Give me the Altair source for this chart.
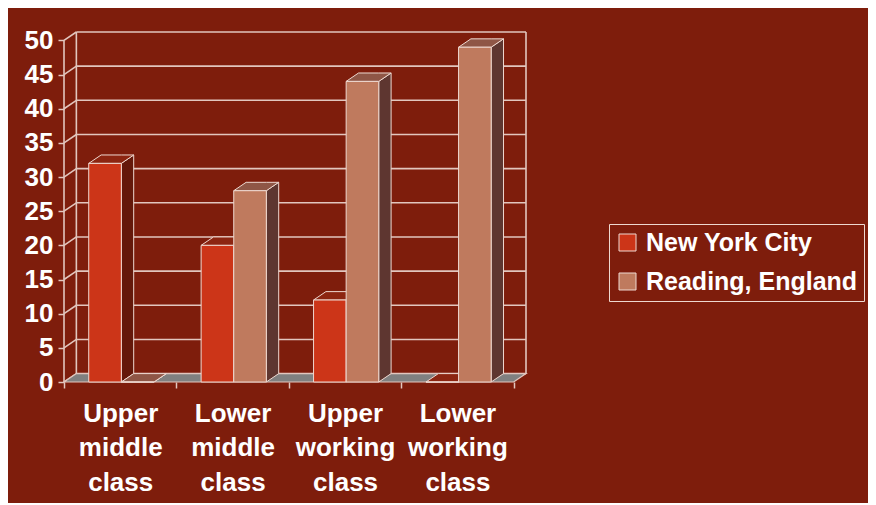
import altair as alt
import pandas as pd

# ---------------- data ----------------
categories = ["Upper middle class", "Lower middle class", "Upper working class", "Lower working class"]
category_lines = [["Upper", "middle", "class"], ["Lower", "middle", "class"],
                  ["Upper", "working", "class"], ["Lower", "working", "class"]]
series = ["New York City", "Reading, England"]
nyc = [32, 20, 12, 0]
reading = [0, 28, 44, 49]
y_ticks = [0, 5, 10, 15, 20, 25, 30, 35, 40, 45, 50]

# ---------------- style / geometry ----------------
BG = "#7E1D0C"
LINE = "#E2C6BE"
EDGE = "#EED8D0"
FRONT = ["#CC3518", "#BF7A5E"]
TOP = ["#8C2511", "#8F5646"]
SIDE = ["#64180A", "#5E3630"]
FLOOR = "#808080"
FONT = "Liberation Sans"

BAR_W = 0.29          # bar width in category units
OFFSETS = [0.22, 0.51]  # left edge of each series' bar inside its category
DX = 0.11             # depth offset (x, category units)
DY = 1.23             # depth offset (y, value units)
N = len(categories)
YMAX = 50

# ---------------- tables ----------------
values = [nyc, reading]
bar_rows, side_rows, top_rows = [], [], []
for s_i, s in enumerate(series):
    for c_i, cat in enumerate(categories):
        v = values[s_i][c_i]
        xl = c_i + OFFSETS[s_i]
        xr = xl + BAR_W
        bid = f"{s_i}-{c_i}"
        bar_rows.append(dict(series=s, category=cat, value=v, xl=xl, xr=xr, y0=0))
        side_rows += [dict(id=bid, series=s, x=xr, ya=v, yb=0),
                      dict(id=bid, series=s, x=xr + DX, ya=v + DY, yb=DY)]
        top_rows += [dict(id=bid, series=s, x=xl, ya=v, yb=v),
                     dict(id=bid, series=s, x=xl + DX, ya=v + DY, yb=v),
                     dict(id=bid, series=s, x=xr, ya=v + DY, yb=v),
                     dict(id=bid, series=s, x=xr + DX, ya=v + DY, yb=v + DY)]
bars = pd.DataFrame(bar_rows)
sides = pd.DataFrame(side_rows)
tops = pd.DataFrame(top_rows)

grid = pd.DataFrame(dict(v=y_ticks))
grid["xb0"] = DX
grid["xb1"] = N + DX
grid["yb"] = grid["v"] + DY
grid["xd0"] = 0.0
grid["xd1"] = DX

walls = pd.DataFrame(dict(x=[DX, N + DX], y0=[DY, DY], y1=[YMAX + DY, YMAX + DY]))
front_axis = pd.DataFrame(dict(x=[0.0], y0=[0], y1=[YMAX]))
floor = pd.DataFrame(dict(x=[0, DX, N, N + DX], ya=[0, DY, DY, DY], yb=[0, 0, 0, DY]))

# ---------------- scales / axes ----------------
xscale = alt.Scale(domain=[0, N + DX], nice=False, zero=False)
yscale = alt.Scale(domain=[0, YMAX + DY], nice=False, zero=False)

label_expr = ""
for i, lines in enumerate(category_lines):
    arr = "[" + ",".join("'" + w + "'" for w in lines) + "]"
    label_expr += f"datum.value == {i + 0.5} ? {arr} : "
label_expr += "''"
x_values = [k / 2 for k in range(2 * N + 1)]

x_axis = alt.Axis(values=x_values, labelExpr=label_expr, title=None, grid=False, domain=False,
                  tickColor=LINE, tickSize=6, tickWidth=1.5,
                  tickOpacity={"condition": {"test": "datum.value % 1 != 0", "value": 0}, "value": 1},
                  labelFont=FONT, labelFontSize=26, labelFontWeight="bold", labelColor="white",
                  labelAlign="center", labelBaseline="top", labelLineHeight=34.5, labelPadding=12,
                  labelOverlap=False, labelFlush=False, labelBound=False)
y_axis = alt.Axis(values=y_ticks, title=None, grid=False, domain=False,
                  tickColor=LINE, tickSize=6, tickWidth=1.5,
                  labelFont=FONT, labelFontSize=26, labelFontWeight="bold", labelColor="white",
                  labelPadding=5, labelOverlap=False, labelFlush=False)


def X(f):
    return alt.X(f, type="quantitative", scale=xscale, axis=x_axis)


def Y(f):
    return alt.Y(f, type="quantitative", scale=yscale, axis=y_axis, stack=None)


back_grid = alt.Chart(grid).mark_rule(color=LINE, strokeWidth=1.6).encode(
    x=X("xb0"), x2="xb1", y=Y("yb"))
diag_grid = alt.Chart(grid).mark_rule(color=LINE, strokeWidth=1.6).encode(
    x=X("xd0"), x2="xd1", y=Y("v"), y2="yb")
wall_lines = alt.Chart(walls).mark_rule(color=LINE, strokeWidth=1.6).encode(
    x=X("x"), y=Y("y0"), y2="y1")
floor_layer = alt.Chart(floor).mark_area(color=FLOOR, stroke=LINE, strokeWidth=1.2, opacity=1).encode(
    x=X("x"), y=Y("ya"), y2="yb")

side_layers, top_layers = [], []
for s_i, s in enumerate(series):
    side_layers.append(alt.Chart(sides[sides.series == s]).mark_area(
        color=SIDE[s_i], stroke=EDGE, strokeWidth=1, opacity=1).encode(
        x=X("x"), y=Y("ya"), y2="yb", detail="id:N"))
    top_layers.append(alt.Chart(tops[tops.series == s]).mark_area(
        color=TOP[s_i], stroke=EDGE, strokeWidth=1, opacity=1).encode(
        x=X("x"), y=Y("ya"), y2="yb", detail="id:N"))

fronts = alt.Chart(bars).mark_rect(stroke=EDGE, strokeWidth=1).encode(
    x=X("xl"), x2="xr", y=Y("value"), y2="y0",
    color=alt.Color("series:N", scale=alt.Scale(domain=series, range=FRONT),
                    legend=alt.Legend(orient="none", legendX=545, legendY=192, title=None,
                                      symbolType="square", symbolSize=289,
                                      symbolStrokeColor=EDGE, symbolStrokeWidth=1,
                                      symbolOpacity=1,
                                      labelFont=FONT, labelFontSize=25, labelFontWeight="bold",
                                      labelColor="white", labelOffset=6, labelLimit=400,
                                      padding=6, rowPadding=13,
                                      fillColor=BG, strokeColor=EDGE)))
axis_line = alt.Chart(front_axis).mark_rule(color=LINE, strokeWidth=1.6).encode(
    x=X("x"), y=Y("y0"), y2="y1")

chart = alt.layer(back_grid, diag_grid, wall_lines, floor_layer, *side_layers, *top_layers,
                  fronts, axis_line).properties(
    width=462, height=350,
    autosize=alt.AutoSizeParams(type="none"),
    padding={"left": 56, "top": 24, "right": 342, "bottom": 121},
    background=BG,
).configure_view(stroke=None)

chart.save("out.html", embed_options={"renderer": "svg", "actions": False})
